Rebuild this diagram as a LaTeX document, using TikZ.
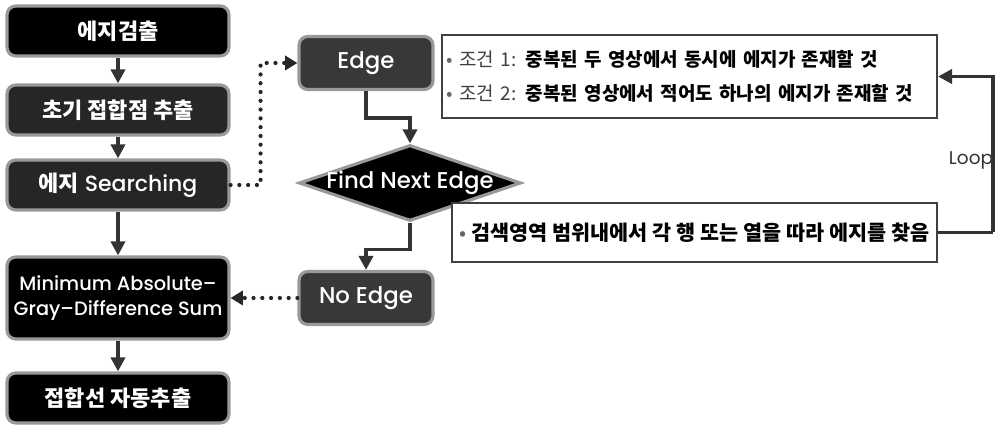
\documentclass[tikz,border=0pt]{standalone}
\usepackage{fontspec}
\setmainfont{Poppins}
\newfontfamily\popm{Poppins Medium}
\newfontfamily\kr{Noto Sans CJK KR}
\usetikzlibrary{arrows.meta,shapes.geometric}
\begin{document}
\begin{tikzpicture}[x=0.02cm,y=-0.02cm,
  boxbase/.style={rounded corners=5pt, draw=black!40, line width=1.8pt, text=white, inner sep=0pt, align=center},
  leftbox/.style={boxbase, minimum width=4.44cm, minimum height=1.0cm, font=\popm\fontsize{12.5}{14}\selectfont},
  midbox/.style={boxbase, minimum width=2.68cm, minimum height=1.06cm, font=\popm\fontsize{13}{14}\selectfont},
  dia/.style={diamond, fill=black, draw=black!40, line width=1.8pt, inner sep=0pt, minimum width=4.44cm, minimum height=1.52cm},
  notebox/.style={draw=black!75, line width=1.2pt, fill=white, inner sep=0pt, text=black},
  flow/.style={draw=black!80, line width=2pt, -{Triangle[length=8pt,width=8pt]}},
  plain/.style={draw=black!80, line width=2pt},
  dotflow/.style={draw=black!85, line width=2.4pt, line cap=round, dash pattern=on 0pt off 5pt, -{Triangle[length=7pt,width=8pt]}},
]
\useasboundingbox (0,0) rectangle (1000,428);

% left column
\node[leftbox, fill=black] (b1) at (118,31) {\kr\bfseries 에지검출};
\node[leftbox, fill=black!85] (b2) at (118,110) {\kr\bfseries 초기 접합점 추출};
\node[leftbox, fill=black!85] (b3) at (118,185) {{\kr\bfseries 에지} Searching};
\node[leftbox, fill=black, minimum height=1.64cm, font=\popm\fontsize{11}{14.5}\selectfont] (b4) at (118,298) {Minimum Absolute\textendash\\Gray\textendash Difference Sum};
\node[leftbox, fill=black] (b5) at (118,398) {\kr\bfseries 접합선 자동추출};

% middle column
\node[midbox, fill=black!78] (edge) at (366,63) {Edge};
\node[dia] (d) at (410,183) {};
\node[text=white, inner sep=0pt, font=\popm\fontsize{13}{14}\selectfont] (dtext) at (d.center) {Find Next Edge};
\node[midbox, fill=black!78] (noedge) at (366,298) {No Edge};

% notes
\node[notebox, minimum width=9.9cm, minimum height=1.66cm, text width=9.72cm, align=left,
      font=\kr\fontsize{10.8}{19}\selectfont] (cond) at (689.5,76.5)
  {{\color{black!60}•} {\color{black!75}조건 1:} \textbf{중복된 두 영상에서 동시에 에지가 존재할 것}\\
   {\color{black!60}•} {\color{black!75}조건 2:} \textbf{중복된 영상에서 적어도 하나의 에지가 존재할 것}};
\node[notebox, minimum width=9.7cm, minimum height=1.18cm, align=center,
      font=\kr\fontsize{11.8}{14}\selectfont] (search) at (694.5,232.5)
  {{\color{black!60}•} \textbf{검색영역 범위내에서 각 행 또는 열을 따라 에지를 찾음}};
\node[text=black!80, inner sep=0pt, font=\fontsize{10.5}{12}\selectfont] (loop) at (971,160) {Loop};

% connectors
\draw[flow] (b1) -- (b2);
\draw[flow] (b2) -- (b3);
\draw[flow] (b3) -- (b4);
\draw[flow] (b4) -- (b5);
\draw[dotflow] (b3.east) -- ++(30,0) |- (edge.west);
\draw[flow] (edge.south) -- ++(0,27) -| (d.north);
\draw[flow] (d.south) -- ++(0,27) -| (noedge.north);
\draw[dotflow] (noedge.west) -- (b4.east);
\coordinate (lp) at (993,232.5);
\draw[plain] (search.east) -- (lp);
\draw[flow] (lp) |- (cond.east);
\end{tikzpicture}
\end{document}
